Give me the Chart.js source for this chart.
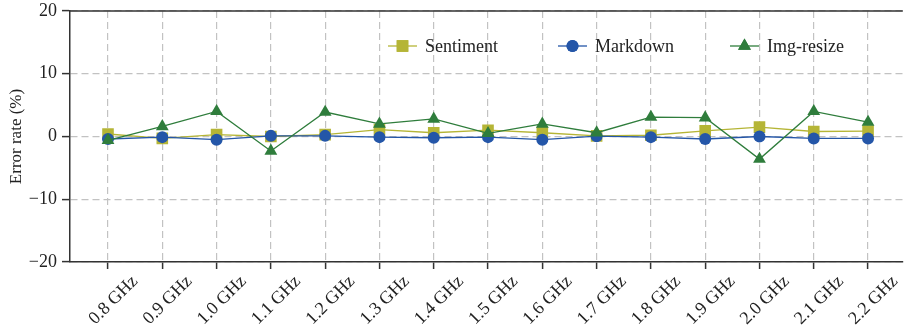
<!DOCTYPE html>
<html>
<head>
<meta charset="utf-8">
<script src="https://cdn.jsdelivr.net/npm/chart.js@4.4.1/dist/chart.umd.min.js"></script>
<style>
  html, body { margin: 0; padding: 0; background: #fff; }
  #wrap { width: 911px; height: 329px; }
</style>
</head>
<body>
<div id="wrap"><canvas id="c"></canvas></div>
<script>
const freqs = ['0.8 GHz', '0.9 GHz', '1.0 GHz', '1.1 GHz', '1.2 GHz', '1.3 GHz', '1.4 GHz', '1.5 GHz',
               '1.6 GHz', '1.7 GHz', '1.8 GHz', '1.9 GHz', '2.0 GHz', '2.1 GHz', '2.2 GHz'];
const sentiment = [0.4, -0.3, 0.3, 0.0, 0.3, 1.1, 0.6, 1.0, 0.6, 0.1, 0.2, 0.9, 1.5, 0.8, 0.85];
const markdown  = [-0.4, -0.1, -0.5, 0.1, 0.1, -0.1, -0.2, -0.1, -0.5, 0.05, -0.1, -0.4, 0.0, -0.3, -0.3];
const imgResize = [-0.6, 1.6, 4.0, -2.3, 3.9, 2.0, 2.8, 0.5, 2.0, 0.6, 3.1, 3.0, -3.6, 4.0, 2.3];
const yTicks = [-20, -10, 0, 10, 20];

const FONT = 'Liberation Serif';
const AXIS = '#333';
const GRID = '#c2c2c2';

// order: higher is drawn first, so Img-resize ends up on top like the original
const series = [
  {label: 'Sentiment', values: sentiment, color: '#b5b536', style: 'rect', r: 8.2, order: 3},
  {label: 'Markdown', values: markdown, color: '#2456a8', style: 'circle', r: 6, order: 2},
  {label: 'Img-resize', values: imgResize, color: '#2f7d3c', style: 'triangle', r: 7.4, order: 1}
];

const datasets = series.map(s => ({
  label: s.label,
  data: s.values.map((v, i) => ({x: i, y: v})),
  order: s.order,
  borderColor: s.color,
  backgroundColor: s.color,
  borderWidth: 1.3,
  pointStyle: s.style,
  pointRadius: s.r,
  pointBorderWidth: 0,
  pointBackgroundColor: s.color,
  tension: 0
}));

// top frame line + in-plot legend
const framePlugin = {
  id: 'frame',
  afterDraw(chart) {
    const {ctx, chartArea} = chart;
    ctx.save();
    ctx.strokeStyle = AXIS;
    ctx.lineWidth = 1.5;
    ctx.beginPath();
    ctx.moveTo(chartArea.left, chartArea.top);
    ctx.lineTo(chartArea.right, chartArea.top);
    ctx.stroke();

    const starts = [388, 558, 730];
    const ly = 46;
    ctx.font = '18px "' + FONT + '"';
    ctx.textBaseline = 'middle';
    series.forEach((s, i) => {
      const x0 = starts[i];
      ctx.strokeStyle = s.color;
      ctx.lineWidth = 1.3;
      ctx.beginPath();
      ctx.moveTo(x0, ly);
      ctx.lineTo(x0 + 29, ly);
      ctx.stroke();
      ctx.fillStyle = s.color;
      Chart.helpers.drawPoint(ctx, {pointStyle: s.style, radius: s.r, rotation: 0, borderWidth: 0}, x0 + 14.5, ly);
      ctx.fill();
      ctx.fillStyle = '#222';
      ctx.fillText(s.label, x0 + 37, ly + 1);
    });
    ctx.restore();
  }
};

new Chart(document.getElementById('c'), {
  type: 'line',
  data: {datasets: datasets},
  plugins: [framePlugin],
  options: {
    responsive: true,
    maintainAspectRatio: false,
    animation: false,
    layout: {padding: {top: 11, right: 0, left: 0, bottom: 0}},
    plugins: {legend: {display: false}, tooltip: {enabled: false}},
    scales: {
      x: {
        type: 'linear',
        min: -0.7,
        max: 14.64,
        afterBuildTicks: (scale) => { scale.ticks = freqs.map((_, i) => ({value: i})); },
        afterFit: (scale) => { scale.height = 67; scale.paddingLeft = 0; scale.paddingRight = 0; },
        ticks: {
          autoSkip: false,
          minRotation: 45,
          maxRotation: 45,
          padding: 2,
          labelOffset: 27,
          color: '#222',
          font: {family: FONT, size: 18},
          callback: (v) => freqs[v]
        },
        grid: {
          color: GRID,
          lineWidth: 1.2,
          drawTicks: true,
          tickLength: 7,
          tickColor: AXIS,
          tickWidth: 1.5,
          tickBorderDash: [],
          borderDash: [7, 4]
        },
        border: {display: true, color: AXIS, width: 1.5, dash: [7, 4]}
      },
      y: {
        min: -20,
        max: 20,
        afterBuildTicks: (scale) => { scale.ticks = yTicks.map(v => ({value: v})); },
        afterFit: (scale) => { scale.width = 70; scale.paddingTop = 0; scale.paddingBottom = 0; },
        title: {
          display: true,
          text: 'Error rate (%)',
          color: '#222',
          font: {family: FONT, size: 17},
          padding: {top: 6, bottom: 0}
        },
        ticks: {
          padding: 5,
          color: '#222',
          font: {family: FONT, size: 18},
          callback: (v) => String(v).replace('-', '\u2212')
        },
        grid: {
          color: GRID,
          lineWidth: 1.2,
          drawTicks: true,
          tickLength: 8,
          tickColor: AXIS,
          tickWidth: 1.5,
          tickBorderDash: []
        },
        border: {display: true, color: AXIS, width: 1.5, dash: [7, 4]}
      }
    }
  }
});
</script>
</body>
</html>
